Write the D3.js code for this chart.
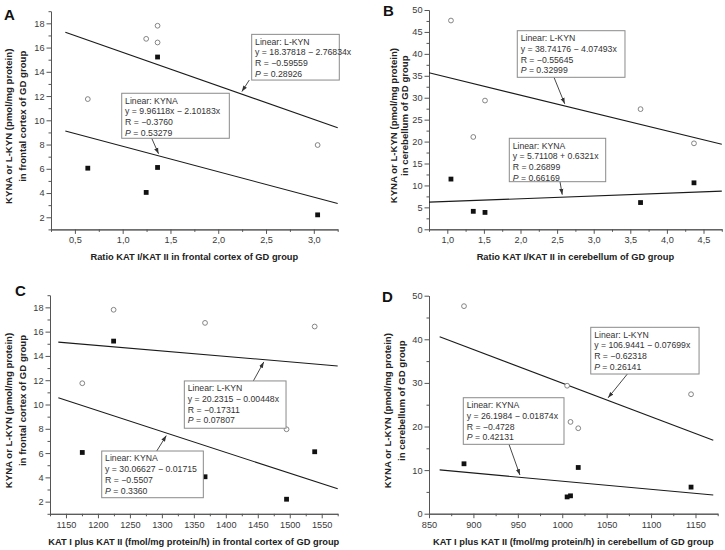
<!DOCTYPE html>
<html><head><meta charset="utf-8">
<script src="https://cdn.jsdelivr.net/npm/d3@7"></script>
<style>
body{margin:0;background:#fff}
svg{display:block}
text{font-family:"Liberation Sans",Arial,Helvetica,sans-serif}
</style>
</head><body>
<svg id="c" width="725" height="550"></svg>
<script>
// ---------------- DATA ----------------
// Frontal cortex (panels A and C), five animals
const ratioFC = [0.635, 1.365, 1.246, 3.04, 1.365];
const katFC   = [1175.5, 1224.5, 1367.5, 1495, 1539];
const lkynFC  = [11.75, 17.8, 16.72, 7.96, 16.42];
const kynaFC  = [6.05, 15.22, 4.05, 2.2, 6.11];
// Cerebellum (panels B and D)
const ratioCB = [1.05, 1.355, 1.515, 3.64, 4.37];
const katCB   = [889.4, 1009.3, 1005.5, 1145, 1018];
const lkynCB  = [47.6, 21.05, 29.35, 27.4, 19.6];
const kynaCB  = [11.45, 4.1, 3.85, 6.1, 10.6];

// Linear fits [intercept, slope] and drawn x-range
const fitA = {lkyn:[18.37818,-2.76834], kyna:[9.96118,-2.10183], range:[0.4,3.25]};
const fitB = {lkyn:[38.74176,-4.07493], kyna:[5.71108,0.6321], range:[0.75,4.75]};
const fitC = {lkyn:[20.2315,-0.00448], kyna:[30.06627,-0.01715], range:[1138,1575]};
const fitD = {lkyn:[106.9441,-0.07699], kyna:[26.1984,-0.01874], range:[862,1170]};

// Annotation texts
const annA = {lkyn:["Linear: L-KYN","y = 18.37818 − 2.76834x","R = −0.59559"," = 0.28926"],
              kyna:["Linear: KYNA","y = 9.96118x − 2.10183x","R = −0.3760"," = 0.53279"]};
const annB = {lkyn:["Linear: L-KYN","y = 38.74176 − 4.07493x","R = −0.55645"," = 0.32999"],
              kyna:["Linear: KYNA","y = 5.71108 + 0.6321x","R = 0.26899"," = 0.66169"]};
const annC = {lkyn:["Linear: L-KYN","y = 20.2315 − 0.00448x","R = −0.17311"," = 0.07807"],
              kyna:["Linear: KYNA","y = 30.06627 − 0.01715","R = −0.5507"," = 0.3360"]};
const annD = {lkyn:["Linear: L-KYN","y = 106.9441 − 0.07699x","R = −0.62318"," = 0.26141"],
              kyna:["Linear: KYNA","y = 26.1984 − 0.01874x","R = −0.4728"," = 0.42131"]};

// Ticks
const xTicksA = [0.5,1.0,1.5,2.0,2.5,3.0];
const xMinorA = [0.25,0.75,1.25,1.75,2.25,2.75,3.25];
const yTicksFC = [2,4,6,8,10,12,14,16,18];
const yMinorFC = [1,3,5,7,9,11,13,15,17,19];
const xTicksB = [1.0,1.5,2.0,2.5,3.0,3.5,4.0,4.5];
const xMinorB = [0.75,1.25,1.75,2.25,2.75,3.25,3.75,4.25,4.75];
const yTicksB = [0,5,10,15,20,25,30,35,40,45,50];
const yMinorB = [2.5,7.5,12.5,17.5,22.5,27.5,32.5,37.5,42.5,47.5];
const xTicksC = [1150,1200,1250,1300,1350,1400,1450,1500,1550];
const xMinorC = [1125,1175,1225,1275,1325,1375,1425,1475,1525,1575];
const xTicksD = [850,900,950,1000,1050,1100,1150];
const xMinorD = [875,925,975,1025,1075,1125,1175];
const yTicksD = [0,10,20,30,40,50];
const yMinorD = [5,15,25,35,45];

// Titles
const yTitle1 = "KYNA or L-KYN (pmol/mg protein)";
const yTitle2 = ["in frontal cortex of GD group","in cerebellum of GD group","in frontal cortex of GD group","in cerebellum of GD group"];
const xTitles = ["Ratio KAT I/KAT II in frontal cortex of GD group",
                 "Ratio KAT I/KAT II in cerebellum of GD group",
                 "KAT I plus KAT II (fmol/mg protein/h) in frontal cortex of GD group",
                 "KAT I plus KAT II (fmol/mg protein/h) in cerebellum of GD group"];
const letters = ["A","B","C","D"];

// ---------------- LAYOUT ----------------
const panels = [
 {i:0, xs:ratioFC, lk:lkynFC, ky:kynaFC, fit:fitA, ann:annA, comma:true,
  xdom:[0.25,3.25], ydom:[1,19], px:[51,337.7], py:[229.4,11.2],
  xT:xTicksA, xM:xMinorA, yT:yTicksFC, yM:yMinorFC,
  letter:[4,19.5], xTitleY:260, yTitleX:[11.5,25.5], yTitleOff:[6,-4],
  box:{lkyn:{x:2.35,y:17.09,w:87.6,h:45.7,tail:[-2.4,45.7],tip:2.233},
       kyna:{x:0.99,y:12.23,w:107.6,h:45,tail:[30,45],tip:1.386}}},
 {i:1, xs:ratioCB, lk:lkynCB, ky:kynaCB, fit:fitB, ann:annB, comma:true,
  xdom:[0.75,4.75], ydom:[0,50], px:[429,721.8], py:[229.3,10],
  xT:xTicksB, xM:xMinorB, yT:yTicksB, yM:yMinorB,
  letter:[383,15.5], xTitleY:260, yTitleX:[397,408], yTitleOff:[6,-4],
  box:{lkyn:{x:1.956,y:45.28,w:107.7,h:46.6,tail:[36.7,46.6],tip:2.617},
       kyna:{x:1.847,y:20.75,w:96.4,h:43.4,tail:[50.7,43.4],tip:2.576}}},
 {i:2, xs:katFC, lk:lkynFC, ky:kynaFC, fit:fitC, ann:annC, comma:false,
  xdom:[1125,1575], ydom:[1,19], px:[50,337.7], py:[513.8,295.2],
  xT:xTicksC, xM:xMinorC, yT:yTicksFC, yM:yMinorFC,
  letter:[15,296], xTitleY:545, yTitleX:[11.5,25.5], yTitleOff:[6,-4],
  box:{lkyn:{x:1335.1,y:11.94,w:101.7,h:47.3,tail:[69,0],tip:1461.3},
       kyna:{x:1205.9,y:6.17,w:101.6,h:46.7,tail:[55,0],tip:1309}}},
 {i:3, xs:katCB, lk:lkynCB, ky:kynaCB, fit:fitD, ann:annD, comma:false,
  xdom:[850,1175], ydom:[0,50], px:[429,717.7], py:[513.7,295.7],
  xT:xTicksD, xM:xMinorD, yT:yTicksD, yM:yMinorD,
  letter:[382,301.5], xTitleY:545, yTitleX:[391,404.5], yTitleOff:[6,-4],
  box:{lkyn:{x:1032.1,y:42.75,w:108.3,h:46.7,tail:[36.6,46.7],tip:1049.8},
       kyna:{x:888.6,y:26.6,w:100.7,h:46.6,tail:[45.7,46.6],tip:953.3}}}
];

const svg = d3.select("#c");
const defs = svg.append("defs");
defs.append("marker").attr("id","ah").attr("viewBox","0 0 10 10")
  .attr("refX",10).attr("refY",5).attr("markerWidth",6).attr("markerHeight",6)
  .attr("markerUnits","userSpaceOnUse").attr("orient","auto")
  .append("path").attr("d","M0,1.5 L10,5 L0,8.5 Z").attr("fill","#333");

const AX = "#555";
function styleAxis(sel){
  sel.select(".domain").attr("stroke",AX).attr("stroke-width",1);
  sel.selectAll(".tick line").attr("stroke",AX).attr("stroke-width",1);
  sel.selectAll(".tick text").attr("fill","#3a3a3a").attr("font-size",9.2)
     .attr("font-family",'"Liberation Sans",Arial,sans-serif');
}

panels.forEach(p=>{
  const g = svg.append("g");
  const x = d3.scaleLinear().domain(p.xdom).range(p.px);
  const y = d3.scaleLinear().domain(p.ydom).range(p.py);
  const fmt = p.comma ? (d=>d3.format(".1f")(d).replace(".",",")) : d3.format("d");

  // axes
  g.append("g").attr("transform",`translate(0,${p.py[0]})`)
    .call(d3.axisBottom(x).tickValues(p.xM).tickSize(2.5).tickFormat("").tickSizeOuter(0)).call(styleAxis);
  g.append("g").attr("transform",`translate(0,${p.py[0]})`)
    .call(d3.axisBottom(x).tickValues(p.xT).tickSize(4.5).tickPadding(3).tickFormat(fmt).tickSizeOuter(0)).call(styleAxis);
  g.append("g").attr("transform",`translate(${p.px[0]},0)`)
    .call(d3.axisLeft(y).tickValues(p.yM).tickSize(2.5).tickFormat("").tickSizeOuter(0)).call(styleAxis);
  g.append("g").attr("transform",`translate(${p.px[0]},0)`)
    .call(d3.axisLeft(y).tickValues(p.yT).tickSize(4.5).tickPadding(2).tickFormat(d3.format("d")).tickSizeOuter(0)).call(styleAxis);

  // fit lines
  const line = d3.line().x(d=>x(d[0])).y(d=>y(d[1]));
  ["lkyn","kyna"].forEach(k=>{
    const [a,b] = p.fit[k];
    g.append("path").attr("d", line(p.fit.range.map(v=>[v, a+b*v])))
      .attr("stroke","#1a1a1a").attr("stroke-width",1.1).attr("fill","none");
  });

  // points
  g.selectAll(".c").data(p.xs.map((v,i)=>[v,p.lk[i]])).join("circle")
    .attr("cx",d=>x(d[0])).attr("cy",d=>y(d[1])).attr("r",2.4)
    .attr("fill","#fff").attr("stroke","#777").attr("stroke-width",0.9);
  g.selectAll(".s").data(p.xs.map((v,i)=>[v,p.ky[i]])).join("rect")
    .attr("x",d=>x(d[0])-2.4).attr("y",d=>y(d[1])-2.4).attr("width",4.8).attr("height",4.8)
    .attr("fill","#111");

  // annotations
  ["lkyn","kyna"].forEach(k=>{
    const b = p.box[k];
    const bx = x(b.x), by = y(b.y);
    const tx = bx + b.tail[0], ty = by + b.tail[1];
    const [a,s] = p.fit[k];
    let ex = x(b.tip), ey = y(a + s*b.tip);
    const dx = tx-ex, dy = ty-ey, L = Math.hypot(dx,dy);
    ex += dx/L*2.5; ey += dy/L*2.5;
    g.append("line").attr("x1",tx).attr("y1",ty).attr("x2",ex).attr("y2",ey)
      .attr("stroke","#333").attr("stroke-width",0.9).attr("marker-end","url(#ah)");
    g.append("rect").attr("x",bx).attr("y",by).attr("width",b.w).attr("height",b.h)
      .attr("fill","#fff").attr("stroke","#8a8a8a").attr("stroke-width",1);
    p.ann[k].forEach((t,i)=>{
      const te = g.append("text").attr("x",bx+3.4).attr("y",by+10.4+i*10.7)
        .attr("font-size",8.7).attr("fill","#333");
      if(i===3){ te.append("tspan").attr("font-style","italic").text("P"); te.append("tspan").text(t); }
      else te.text(t);
    });
  });

  // titles
  const cx = (p.px[0]+p.px[1])/2, cy = (p.py[0]+p.py[1])/2;
  g.append("text").attr("x",cx).attr("y",p.xTitleY).attr("text-anchor","middle")
    .attr("font-weight","bold").attr("font-size",9.3).attr("fill","#222").text(xTitles[p.i]);
  [yTitle1, yTitle2[p.i]].forEach((t,j)=>{
    g.append("text").attr("transform",`translate(${p.yTitleX[j]},${cy+p.yTitleOff[j]}) rotate(-90)`)
      .attr("text-anchor","middle").attr("font-weight","bold").attr("font-size",9.6)
      .attr("fill","#222").text(t);
  });
  g.append("text").attr("x",p.letter[0]).attr("y",p.letter[1]).attr("font-weight","bold")
    .attr("font-size",15).attr("fill","#111").text(letters[p.i]);
});
</script>
</body></html>
